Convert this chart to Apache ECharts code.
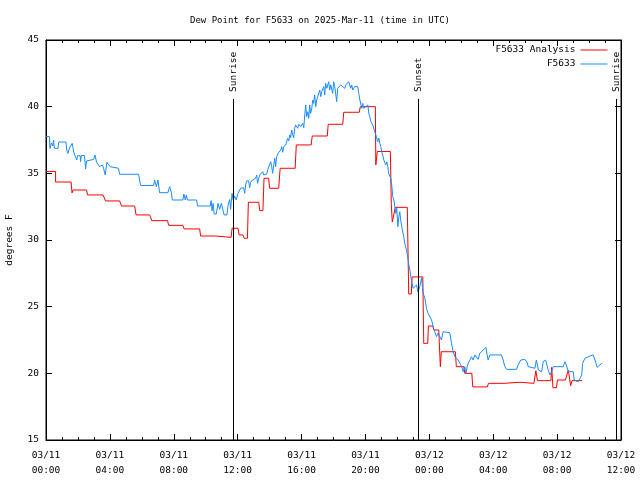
<!DOCTYPE html>
<html>
<head>
<meta charset="utf-8">
<script src="https://cdn.jsdelivr.net/npm/echarts@6/dist/echarts.min.js"></script>
<style>html,body{margin:0;padding:0;background:#fff}#c{width:640px;height:480px}</style>
</head>
<body>
<div id="c"></div>
<script>
// time in hours since 03/11 00:00 UTC, values in degrees F
const analysisHours = [0.00,0.60,0.60,1.57,1.63,1.69,2.54,2.60,3.57,3.73,4.61,4.73,5.55,5.64,6.49,6.55,6.63,7.61,7.68,8.57,8.65,9.62,9.68,10.62,10.68,11.59,11.65,12.02,12.09,12.33,12.41,12.61,12.67,13.32,13.38,13.58,13.65,13.94,14.00,14.57,14.66,15.60,15.67,16.60,16.67,17.61,17.67,18.58,18.64,19.61,19.68,20.62,20.65,20.74,21.56,21.62,21.68,21.87,22.62,22.71,22.87,22.92,23.59,23.65,23.90,23.94,24.22,24.28,24.59,24.69,24.75,25.63,25.69,26.16,26.22,26.66,26.72,27.63,27.70,28.67,28.73,29.67,29.73,30.55,30.67,30.77,31.61,31.66,31.74,31.96,32.02,32.52,32.70,32.85,32.93,33.57];
const analysisValues = [35.14,35.14,34.35,34.35,33.53,33.75,33.75,33.38,33.38,32.93,32.93,32.55,32.55,31.88,31.88,32.03,31.45,31.45,31.10,31.10,30.83,30.83,30.30,30.30,30.20,30.20,30.88,30.88,30.38,30.38,30.13,30.13,32.83,32.83,32.20,32.20,34.63,34.63,33.88,33.88,35.38,35.38,37.13,37.13,37.80,37.80,38.68,38.68,39.58,39.58,40.00,40.00,35.63,36.64,36.64,32.63,31.35,32.45,32.45,25.95,25.95,27.23,27.23,22.25,22.25,23.55,23.55,23.25,23.25,20.50,21.62,21.62,20.50,20.50,20.00,20.00,18.98,18.98,19.25,19.25,19.33,19.33,19.25,19.25,20.20,19.45,19.45,20.45,18.92,18.92,19.50,19.50,20.25,19.07,19.45,19.45];

const stationHours = [0.01,0.22,0.25,0.34,0.43,0.47,0.53,0.75,0.80,1.25,1.30,1.37,1.47,1.58,1.64,1.74,1.82,1.93,1.97,2.14,2.16,2.22,2.41,2.48,2.54,2.66,2.98,3.07,3.16,3.26,3.35,3.46,3.54,3.60,3.71,3.81,3.92,4.02,4.12,4.54,4.61,5.80,5.86,5.92,6.74,6.80,6.91,7.01,7.11,7.63,7.74,7.85,7.91,8.57,8.63,8.72,8.79,8.85,9.43,9.49,10.28,10.34,10.40,10.46,10.53,10.66,10.77,10.87,10.98,11.08,11.15,11.33,11.40,11.50,11.56,11.65,11.72,11.81,11.91,12.02,12.13,12.19,12.38,12.44,12.50,12.56,12.69,12.75,12.81,12.94,13.13,13.19,13.25,13.32,13.38,13.50,13.57,13.63,13.82,13.88,13.94,14.00,14.07,14.13,14.19,14.26,14.32,14.38,14.44,14.51,14.57,14.63,14.70,14.76,14.82,14.88,14.95,15.01,15.07,15.13,15.20,15.26,15.32,15.38,15.45,15.51,15.57,15.63,15.76,15.82,15.95,16.07,16.14,16.20,16.26,16.32,16.39,16.45,16.51,16.57,16.64,16.70,16.76,16.82,16.89,16.95,17.01,17.14,17.20,17.26,17.39,17.45,17.51,17.58,17.70,17.76,17.83,17.95,18.01,18.08,18.20,18.26,18.45,18.70,18.77,18.89,18.95,19.08,19.14,19.21,19.33,19.52,19.58,19.65,19.71,19.77,19.83,19.90,20.02,20.15,20.21,20.27,20.34,20.46,20.58,20.65,20.77,20.84,20.90,20.96,21.02,21.09,21.15,21.27,21.34,21.40,21.46,21.52,21.59,21.65,21.71,21.78,21.84,21.90,21.96,22.03,22.09,22.15,22.22,22.31,22.40,22.46,22.57,22.63,22.70,22.78,22.84,22.90,22.98,23.09,23.20,23.28,23.40,23.51,23.61,23.72,23.82,23.92,24.03,24.14,24.24,24.34,24.45,24.55,24.66,24.76,24.86,25.28,25.39,25.49,25.60,25.70,25.80,25.91,26.02,26.12,26.22,26.29,26.37,26.43,26.54,26.64,26.74,26.85,26.96,27.06,27.16,27.27,27.37,27.54,27.62,27.68,27.79,28.52,28.62,28.73,28.84,29.46,29.56,29.73,29.98,30.11,30.19,30.30,30.61,30.70,30.77,30.83,31.03,31.13,31.28,31.44,31.55,31.66,31.76,32.38,32.49,32.60,32.70,33.01,33.07,33.32,33.43,33.54,33.60,33.74,34.06,34.26,34.37,34.51,34.62,34.79];
const stationValues = [37.76,37.76,36.86,37.28,37.05,37.50,36.88,36.88,37.35,37.35,36.75,36.49,36.90,36.98,37.25,36.60,36.30,36.00,36.32,36.32,35.87,36.34,36.34,35.33,35.93,36.04,36.04,36.38,35.85,35.70,35.50,35.38,35.63,35.38,34.88,35.83,35.83,35.50,35.38,35.38,34.93,34.93,34.50,34.09,34.09,34.50,34.00,34.50,33.55,33.55,34.00,33.55,33.00,33.00,33.45,33.00,33.38,33.00,33.00,32.55,32.55,32.96,32.18,32.75,31.95,31.95,32.75,32.30,32.75,32.25,31.88,31.88,32.63,33.04,32.30,33.49,33.00,33.30,33.00,33.50,33.62,33.88,33.92,33.50,34.13,34.43,34.43,33.92,34.33,34.50,34.63,34.88,34.25,34.63,34.88,34.93,35.12,34.88,34.95,35.25,35.38,35.12,35.87,35.50,35.00,35.63,36.13,35.50,36.25,36.38,36.58,36.45,36.75,37.00,36.58,37.00,36.88,37.13,37.37,37.63,37.43,37.88,37.67,38.25,37.88,37.67,38.38,38.63,38.38,38.68,38.50,38.75,38.42,39.38,40.13,39.25,39.62,39.13,40.13,39.50,39.88,40.50,40.25,40.88,40.00,40.50,40.75,41.25,40.75,41.12,41.50,40.88,41.75,41.38,41.87,41.25,41.63,41.00,41.87,41.50,40.37,41.38,41.63,41.38,41.63,41.50,41.87,41.38,41.63,41.25,41.50,41.50,41.00,40.50,40.20,39.88,40.25,39.88,39.75,40.13,39.50,39.25,38.87,38.63,38.12,37.88,37.37,37.65,37.25,37.00,36.62,36.34,36.00,35.63,35.85,35.50,34.95,35.10,34.63,34.05,33.25,33.00,33.13,32.00,32.38,31.00,31.75,32.12,31.37,30.75,30.25,29.75,29.25,28.88,28.25,27.75,27.25,26.87,26.38,26.25,26.63,26.12,26.50,27.15,26.02,25.63,24.88,24.50,24.38,24.00,23.50,23.12,22.75,23.02,23.12,22.50,23.12,23.05,22.25,21.62,21.25,21.13,21.00,20.75,20.50,20.12,20.50,20.00,20.50,20.75,21.00,21.25,21.00,21.38,21.25,21.05,21.50,21.62,21.75,21.95,21.38,21.00,21.38,21.38,21.00,20.50,20.30,20.30,20.63,21.00,21.05,20.85,20.50,20.38,20.38,21.00,21.13,20.25,20.12,20.87,21.00,20.25,19.88,20.12,20.50,20.50,20.87,20.55,20.12,20.12,19.50,19.37,19.50,19.88,20.75,21.13,21.30,21.38,21.00,20.45,20.55,20.75];

const sunHours = [11.71, 23.30, 35.73];
const sunNames = ['Sunrise', 'Sunset', 'Sunrise'];
const sunLineTop = 40.58;

const xTickLabels = ['03/11\n00:00','03/11\n04:00','03/11\n08:00','03/11\n12:00','03/11\n16:00','03/11\n20:00','03/12\n00:00','03/12\n04:00','03/12\n08:00','03/12\n12:00'];
const yMin = 15, yMax = 45, yStep = 5;
const xMin = 0, xMax = 36, xStep = 4;

const FONT = 'DejaVu Sans Mono';
const FS = 9.5;
const chart = echarts.init(document.getElementById('c'), null, {renderer: 'canvas'});

const zip = (a, b) => a.map((h, i) => [h, b[i]]);

const xBase = {
  type: 'value', min: xMin, max: xMax, interval: xStep,
  axisLine: {show: true, onZero: false, lineStyle: {color: '#000', width: 1}},
  axisTick: {show: true, inside: true, length: 6, lineStyle: {color: '#000'}},
  minorTick: {show: true, splitNumber: 4, length: 3, lineStyle: {color: '#000'}},
  splitLine: {show: false}, minorSplitLine: {show: false}
};
const yBase = {
  type: 'value', min: yMin, max: yMax, interval: yStep,
  axisLine: {show: true, onZero: false, lineStyle: {color: '#000', width: 1}},
  axisTick: {show: true, inside: true, length: 6, lineStyle: {color: '#000'}},
  splitLine: {show: false}
};
const legendBase = {
  orient: 'vertical', align: 'right', right: 27, itemWidth: 27, itemHeight: 12,
  itemStyle: {opacity: 0}, lineStyle: {width: 1},
  textStyle: {fontFamily: FONT, fontSize: FS, color: '#000'}
};

chart.setOption({
  animation: false,
  backgroundColor: '#fff',
  title: {
    text: 'Dew Point for F5633 on 2025-Mar-11 (time in UTC)',
    left: 'center', top: 11,
    textStyle: {fontFamily: FONT, fontSize: 9, fontWeight: 'normal', color: '#000'}
  },
  grid: {left: 46, right: 19, top: 40, bottom: 40, show: true, borderColor: '#000', borderWidth: 1,
         containLabel: false, outerBoundsMode: 'none'},
  legend: [
    Object.assign({}, legendBase, {data: ['F5633 Analysis'], top: 40}),
    Object.assign({}, legendBase, {data: ['F5633'], top: 54})
  ],
  xAxis: [
    Object.assign({}, xBase, {position: 'bottom',
      axisLabel: {show: true, margin: 8, color: '#000', fontFamily: FONT, fontSize: FS, lineHeight: 15,
        showMinLabel: true, showMaxLabel: true,
        formatter: v => xTickLabels[Math.round((v - xMin) / xStep)] || ''}}),
    Object.assign({}, xBase, {position: 'top', axisLabel: {show: false}})
  ],
  yAxis: [
    Object.assign({}, yBase, {position: 'left', name: 'degrees F', nameLocation: 'middle', nameRotate: 90, nameGap: 31,
      nameTextStyle: {fontFamily: FONT, fontSize: FS, color: '#000'},
      axisLabel: {show: true, margin: 7, color: '#000', fontFamily: FONT, fontSize: FS}}),
    Object.assign({}, yBase, {position: 'right', axisLabel: {show: false}})
  ],
  series: [
    {
      name: 'F5633 Analysis', type: 'line', data: zip(analysisHours, analysisValues),
      symbol: 'none', lineStyle: {color: '#ff0000', width: 1}, itemStyle: {color: '#ff0000'},
      markLine: {
        silent: true, symbol: 'none', animation: false,
        lineStyle: {color: '#000', width: 1, type: 'solid'},
        label: {show: false},
        data: sunHours.map(h => [{coord: [h, yMin]}, {coord: [h, sunLineTop]}])
      }
    },
    {
      name: 'F5633', type: 'line', data: zip(stationHours, stationValues),
      symbol: 'none', lineStyle: {color: '#1a8cff', width: 1}, itemStyle: {color: '#1a8cff'}
    }
  ]
});

const texts = sunHours.map((h, i) => {
  const p = chart.convertToPixel({gridIndex: 0}, [h, sunLineTop]);
  return {
    type: 'text', x: p[0], y: p[1] - 7, rotation: Math.PI / 2,
    style: {text: sunNames[i], fill: '#000', font: FS + 'px ' + FONT, align: 'left', verticalAlign: 'middle'}
  };
});
chart.setOption({graphic: texts});
</script>
</body>
</html>
